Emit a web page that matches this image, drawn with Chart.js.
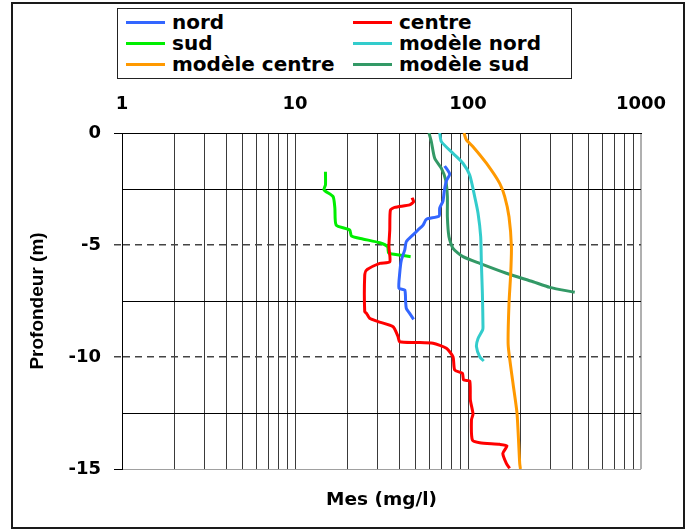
<!DOCTYPE html>
<html>
<head>
<meta charset="utf-8">
<script src="https://cdn.jsdelivr.net/npm/chart.js@4/dist/chart.umd.min.js"></script>
<style>
html,body{margin:0;padding:0;background:#fff;}
#wrap{position:relative;width:693px;height:531px;overflow:hidden;background:#fff;}
#c{position:absolute;left:0;top:0;}
#frame{position:absolute;left:11px;top:2px;width:674px;height:527px;box-sizing:border-box;border:2px solid #1a1a1a;pointer-events:none;}
#legend{position:absolute;left:117px;top:8px;width:455px;height:71px;box-sizing:border-box;border:1px solid #222;background:#fff;font:bold 20px "DejaVu Sans",sans-serif;color:#000;}
.item{position:absolute;height:21px;line-height:21px;white-space:nowrap;}
.swatch{display:inline-block;width:39px;height:3px;vertical-align:middle;margin-right:7px;position:relative;top:-1px;}
</style>
</head>
<body>
<div id="wrap">
  <canvas id="c" width="693" height="531"></canvas>
  <div id="legend"></div>
  <div id="frame"></div>
</div>
<script>
// ---- data ----
const seriesLabels = ['nord', 'centre', 'sud', 'modèle nord', 'modèle centre', 'modèle sud'];
const seriesColors = ['#3366ff', '#ff0000', '#00ee00', '#33cccc', '#ff9900', '#339966'];

const nordX = [73.3, 78.4, 75.0, 72.8, 71.7, 68.6, 68.0, 57.5, 55.0, 51.4, 48.1, 44.0, 43.1, 41.2, 40.3, 39.9, 43.1, 43.6, 44.0, 46.0, 48.5];
const nordY = [-1.47, -1.83, -2.14, -2.62, -3.04, -3.35, -3.71, -3.85, -4.11, -4.33, -4.55, -4.85, -5.22, -5.67, -6.26, -6.93, -7.01, -7.53, -7.83, -8.05, -8.32];

const centreX = [47.5, 48.5, 46.0, 37.7, 35.6, 35.3, 34.9, 35.3, 30.9, 25.9, 25.3, 25.3, 25.9, 27.0, 30.2, 36.9, 39.4, 40.3, 50.3, 62.8, 75.0, 81.9, 83.8, 92.8, 94.4, 102.3, 103.2, 106.9, 104.7, 106.0, 116.9, 152.5, 168, 159, 166.6, 174];
const centreY = [-2.89, -3.07, -3.21, -3.32, -3.44, -4.33, -5.08, -5.75, -5.82, -6.12, -6.34, -7.98, -8.05, -8.27, -8.42, -8.65, -9.09, -9.32, -9.35, -9.39, -9.61, -9.99, -10.58, -10.73, -11.03, -11.07, -11.92, -12.54, -12.81, -13.71, -13.83, -13.9, -13.97, -14.3, -14.75, -14.97];

const sudX = [15.0, 15.0, 14.7, 16.6, 17.0, 17.3, 20.7, 21.2, 24.6, 30.9, 34.3, 34.8, 40.3, 46.6];
const sudY = [-1.73, -2.32, -2.54, -2.84, -3.35, -4.11, -4.33, -4.6, -4.73, -4.9, -5.08, -5.36, -5.45, -5.52];

const modNordX = [68.6, 70.2, 81.9, 93.5, 102.3, 109.3, 114.3, 118.4, 119.5, 121.1, 122.1, 121.5, 114.3, 111.9, 116.9, 123.3];
const modNordY = [0, -0.39, -0.91, -1.35, -1.88, -2.84, -3.58, -4.63, -5.82, -7.16, -8.65, -8.79, -9.17, -9.54, -9.99, -10.18];

const modCentreX = [94.8, 97.9, 106.9, 127.7, 152.5, 163, 172.6, 178.2, 176.6, 172.6, 170.7, 182, 192, 199, 201];
const modCentreY = [0, -0.31, -0.61, -1.35, -2.25, -2.84, -3.74, -5.08, -6.26, -7.6, -9.46, -11.17, -12.51, -14.75, -15];

const modSudX = [59.5, 61.4, 64.2, 70.2, 74.3, 76.0, 76.0, 77.6, 81.9, 93.5, 116.9, 166.6, 237.7, 296.6, 414];
const modSudY = [0, -0.39, -1.13, -1.58, -2.1, -2.84, -3.74, -4.63, -5.15, -5.52, -5.82, -6.26, -6.64, -6.89, -7.11];

const xTickLabels = ['1', '10', '100', '1000'];
const xDecades = [1, 10, 100];
const xMultipliers = [1, 2, 3, 4, 5, 6, 7, 8, 9];
const yTickLabels = ['0', '-5', '-10', '-15'];
const xTitle = 'Mes (mg/l)';
const yTitle = 'Profondeur (m)';

// ---- build ----
const seriesX = [nordX, centreX, sudX, modNordX, modCentreX, modSudX];
const seriesY = [nordY, centreY, sudY, modNordY, modCentreY, modSudY];
const xGridValues = [];
xDecades.forEach(d => xMultipliers.forEach(m => xGridValues.push(d * m)));
xGridValues.push(1000);

const datasets = seriesLabels.map((lab, i) => ({
  label: lab,
  data: seriesX[i].map((v, j) => ({x: v, y: seriesY[i][j]})),
  borderColor: seriesColors[i],
  backgroundColor: seriesColors[i],
  showLine: true,
  pointRadius: 0,
  borderWidth: 3,
  tension: 0.2,
  fill: false,
  xAxisID: 'x',
  yAxisID: 'y'
}));

const tickFont = {family: 'DejaVu Sans', weight: 'bold', size: 18};
const isDashed = v => v === -5 || v === -10;

const chart = new Chart(document.getElementById('c'), {
  type: 'scatter',
  data: {datasets},
  options: {
    responsive: false,
    animation: false,
    devicePixelRatio: 1,
    layout: {padding: {left: 14, top: 0, right: 52, bottom: 0}},
    plugins: {legend: {display: false}, tooltip: {enabled: false}},
    scales: {
      x: {
        type: 'logarithmic',
        position: 'top',
        min: 1,
        max: 1000,
        afterFit: s => { s.height = 133; },
        afterBuildTicks: s => { s.ticks = xGridValues.map(v => ({value: v})); },
        ticks: {
          autoSkip: false, maxRotation: 0, minRotation: 0, padding: 18,
          color: '#000', font: tickFont,
          callback: v => xTickLabels.includes(String(v)) ? String(v) : ''
        },
        grid: {
          drawTicks: false,
          color: c => (c.tick && c.tick.value === 1000) ? '#b0b0b0' : '#3a3a3a',
          lineWidth: c => (c.tick && c.tick.value === 1000) ? 2 : 1
        },
        border: {display: true, color: '#000', width: 1}
      },
      xb: {
        type: 'linear',
        position: 'bottom',
        min: 0, max: 1,
        afterFit: s => { s.height = 62; },
        ticks: {display: false},
        grid: {display: false, drawTicks: false},
        border: {display: false},
        title: {
          display: true, text: xTitle, color: '#000',
          font: {family: 'DejaVu Sans', weight: 'bold', size: 18.5},
          padding: {top: 0, bottom: 20}
        }
      },
      y: {
        type: 'linear',
        min: -15, max: 0,
        afterFit: s => { s.width = 108; },
        ticks: {
          stepSize: 2.5, padding: 13, color: '#000', font: tickFont,
          callback: v => yTickLabels.includes(String(v)) ? String(v) : ''
        },
        grid: {
          tickLength: 8,
          lineWidth: c => (c.tick && isDashed(c.tick.value)) ? 1.5 : 1,
          color: c => {
            if (!c.tick) return '#000';
            const v = c.tick.value;
            if (v === -15) return '#a0a0a0';
            if (isDashed(v)) return '#444';
            return '#000';
          },
          tickColor: c => {
            if (!c.tick) return '#000';
            const v = c.tick.value;
            if (!yTickLabels.includes(String(v))) return 'rgba(0,0,0,0)';
            return isDashed(v) ? '#444' : '#000';
          },
          tickBorderDash: c => (c.tick && isDashed(c.tick.value)) ? [7, 5] : []
        },
        border: {
          display: true, color: '#000', width: 1,
          dash: c => (c.tick && isDashed(c.tick.value)) ? [7, 5] : []
        },
        title: {
          display: true, text: yTitle, color: '#000',
          font: {family: 'Liberation Sans', weight: 'bold', size: 19},
          padding: {top: 12, bottom: 0}
        }
      }
    }
  }
});

// HTML legend built from chart datasets
const legendEl = document.getElementById('legend');
chart.data.datasets.forEach((ds, i) => {
  const col = i % 2, row = Math.floor(i / 2);
  const item = document.createElement('div');
  item.className = 'item';
  item.style.left = (col === 0 ? 8 : 235) + 'px';
  item.style.top = (2.5 + row * 21) + 'px';
  const sw = document.createElement('span');
  sw.className = 'swatch';
  sw.style.background = ds.borderColor;
  item.appendChild(sw);
  item.appendChild(document.createTextNode(ds.label));
  legendEl.appendChild(item);
});
</script>
</body>
</html>
